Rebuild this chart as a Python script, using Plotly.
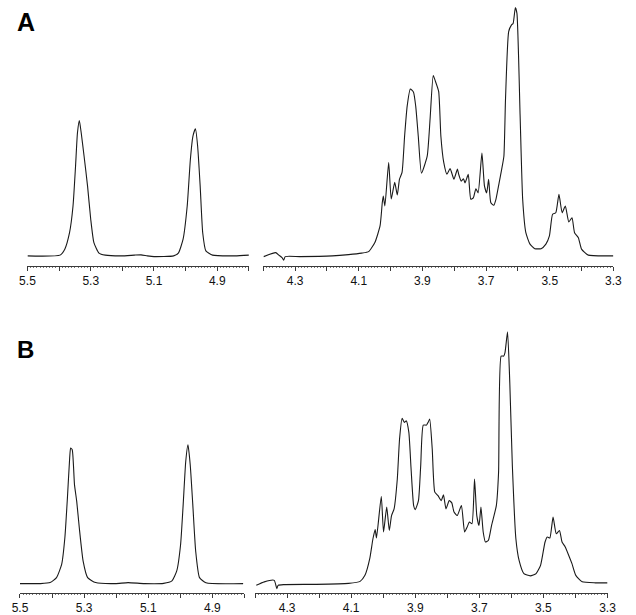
import plotly.graph_objects as go

# ---------------- data (chemical shift in ppm, relative intensity) ----------------
a_left_ppm = [5.500, 5.459, 5.397, 5.382, 5.367, 5.356, 5.348, 5.342, 5.336, 5.330, 5.321, 5.310,
              5.300, 5.290, 5.274, 5.254, 5.203, 5.162, 5.141, 5.121, 5.100, 5.038, 5.023, 5.008,
              4.995, 4.985, 4.977, 4.969, 4.962, 4.954, 4.946, 4.936, 4.915, 4.844, 4.800]
a_left_int = [0.0, -0.1, 0.3, 2.7, 9.3, 20.0, 36.0, 49.3, 54.3, 49.3, 40.0, 28.0,
              14.7, 5.3, 1.1, 0.3, 0.0, 0.3, 0.4, 0.0, -0.3, 0.0, 1.1, 6.7,
              20.0, 38.7, 48.0, 51.0, 44.0, 28.0, 9.3, 2.0, 0.3, 0.0, 0.3]

a_right_ppm = [4.399, 4.361, 4.351, 4.341, 4.336, 4.331, 4.285, 4.183, 4.132, 4.091, 4.069, 4.049,
               4.033, 4.026, 4.023, 4.018, 4.006, 3.998, 3.987, 3.979, 3.972, 3.964, 3.956, 3.948,
               3.938, 3.928, 3.921, 3.913, 3.903, 3.885, 3.876, 3.866, 3.859, 3.849, 3.842, 3.833,
               3.823, 3.813, 3.801, 3.790, 3.786, 3.778, 3.771, 3.766, 3.756, 3.748, 3.740, 3.732,
               3.725, 3.713, 3.705, 3.698, 3.692, 3.685, 3.676, 3.669, 3.659, 3.651, 3.644, 3.639,
               3.629, 3.620, 3.615, 3.608, 3.603, 3.593, 3.585, 3.575, 3.562, 3.547, 3.527, 3.512,
               3.501, 3.491, 3.481, 3.471, 3.461, 3.451, 3.440, 3.430, 3.422, 3.410, 3.400, 3.379,
               3.318, 3.300]
a_right_int = [-0.3, 1.3, 0.3, -0.7, -1.7, -0.3, -0.3, 0.0, 0.5, 1.1, 1.7, 5.5,
               12.1, 21.5, 24.0, 20.0, 37.5, 22.8, 29.5, 24.4, 30.8, 33.5, 48.0, 60.0,
               67.0, 65.7, 60.0, 48.0, 33.2, 40.0, 54.8, 72.4, 70.0, 66.0, 48.0, 37.5,
               32.8, 35.0, 30.8, 34.8, 32.7, 30.0, 30.9, 29.3, 32.7, 22.7, 23.3, 26.9,
               25.3, 41.3, 28.0, 25.3, 30.7, 21.3, 20.3, 22.7, 29.3, 34.7, 40.0, 62.7,
               90.0, 92.7, 93.3, 99.7, 97.3, 56.0, 22.7, 9.3, 4.7, 2.9, 2.9, 4.7,
               8.0, 16.7, 17.3, 24.7, 17.3, 20.0, 13.6, 15.3, 9.3, 7.3, 2.7, 0.3,
               0.0, 0.0]

b_left_ppm = [5.500, 5.436, 5.406, 5.386, 5.370, 5.360, 5.352, 5.345, 5.342, 5.337, 5.330, 5.323,
              5.315, 5.303, 5.289, 5.264, 5.203, 5.163, 5.112, 5.052, 5.026, 5.011, 4.999, 4.991,
              4.983, 4.976, 4.969, 4.961, 4.952, 4.940, 4.920, 4.804]
b_left_int = [0.0, 0.0, 0.4, 2.4, 7.7, 18.4, 34.4, 50.4, 54.4, 53.7, 39.7, 33.0,
              22.4, 9.0, 2.4, 0.4, 0.0, 0.4, 0.0, 0.1, 1.1, 5.1, 15.7, 31.7,
              49.0, 55.7, 47.7, 31.7, 13.1, 2.4, 0.3, 0.0]

b_right_ppm = [4.396, 4.371, 4.340, 4.332, 4.328, 4.310, 4.209, 4.108, 4.072, 4.057, 4.042, 4.032,
               4.025, 4.021, 4.006, 3.999, 3.989, 3.981, 3.974, 3.966, 3.956, 3.949, 3.941, 3.934,
               3.928, 3.920, 3.913, 3.905, 3.900, 3.890, 3.883, 3.875, 3.865, 3.860, 3.855, 3.847,
               3.839, 3.829, 3.819, 3.812, 3.804, 3.794, 3.786, 3.779, 3.769, 3.756, 3.746, 3.738,
               3.731, 3.723, 3.715, 3.708, 3.701, 3.695, 3.688, 3.681, 3.672, 3.662, 3.647, 3.640,
               3.632, 3.624, 3.620, 3.612, 3.605, 3.597, 3.586, 3.576, 3.561, 3.541, 3.523, 3.509,
               3.495, 3.488, 3.480, 3.470, 3.460, 3.450, 3.442, 3.432, 3.421, 3.411, 3.399, 3.379,
               3.338, 3.300]
b_right_int = [-0.7, 0.7, 1.3, -2.0, -0.7, -0.4, -0.3, 0.1, 0.9, 3.3, 10.0, 18.0,
               21.7, 18.3, 35.0, 20.7, 30.7, 21.3, 27.3, 30.0, 42.0, 58.0, 66.3, 64.7,
               65.3, 60.7, 46.0, 31.3, 29.7, 33.3, 47.3, 63.6, 63.6, 64.7, 66.0, 54.0,
               36.7, 35.3, 33.3, 35.6, 30.0, 33.3, 32.4, 28.7, 27.3, 31.3, 20.7, 22.7,
               24.7, 24.0, 42.0, 27.3, 23.3, 30.7, 20.7, 16.7, 17.3, 23.3, 31.3, 44.7,
               91.3, 91.3, 92.7, 101.0, 80.7, 47.3, 18.0, 9.3, 4.0, 3.1, 4.0, 7.3,
               16.7, 18.7, 18.3, 26.7, 20.0, 21.3, 16.7, 14.7, 11.3, 8.0, 3.3, 0.7,
               0.3, 0.3]

left_tickvals = [5.5, 5.4, 5.3, 5.2, 5.1, 5.0, 4.9, 4.8]
left_ticktext = ["5.5", "", "5.3", "", "5.1", "", "4.9", ""]
right_tickvals = [4.4, 4.3, 4.2, 4.1, 4.0, 3.9, 3.8, 3.7, 3.6, 3.5, 3.4, 3.3]
right_ticktext = ["", "4.3", "", "4.1", "", "3.9", "", "3.7", "", "3.5", "", "3.3"]
panel_labels = ["A", "B"]

# ---------------- figure ----------------
W, H = 636, 615
LINE = dict(color="#1a1a1a", width=1.1, shape="spline", smoothing=0.5)

fig = go.Figure()
fig.add_trace(go.Scatter(x=a_left_ppm, y=a_left_int, mode="lines", line=LINE, xaxis="x", yaxis="y"))
fig.add_trace(go.Scatter(x=a_right_ppm, y=a_right_int, mode="lines", line=LINE, xaxis="x2", yaxis="y"))
fig.add_trace(go.Scatter(x=b_left_ppm, y=b_left_int, mode="lines", line=LINE, xaxis="x3", yaxis="y2"))
fig.add_trace(go.Scatter(x=b_right_ppm, y=b_right_int, mode="lines", line=LINE, xaxis="x4", yaxis="y2"))


def px_x(a, b):
    return [a / W, b / W]


def px_y(top, bottom):
    return [1 - bottom / H, 1 - top / H]


def xax(domain, rng, vals, text, anchor):
    return dict(
        domain=domain, range=rng, anchor=anchor,
        showgrid=False, zeroline=False,
        showline=True, linecolor="#3a3a3a", linewidth=1,
        ticks="outside", ticklen=4, tickwidth=1, tickcolor="#3a3a3a",
        tickmode="array", tickvals=vals, ticktext=text,
        tickfont=dict(family="Liberation Sans, Arial, sans-serif", size=12, color="#111"),
        minor=dict(ticks="outside", ticklen=1.5, tickwidth=1, tickcolor="#777",
                   tick0=3.0, dtick=0.01, showgrid=False),
        fixedrange=True,
    )


fig.update_layout(
    width=W, height=H,
    margin=dict(l=0, r=0, t=0, b=0),
    paper_bgcolor="white", plot_bgcolor="white",
    showlegend=False,
    xaxis=xax(px_x(20, 247.5), [5.5, 4.8], left_tickvals, left_ticktext, "y"),
    xaxis2=xax(px_x(262.3, 622), [4.4, 3.3], right_tickvals, right_ticktext, "y"),
    xaxis3=xax(px_x(12.3, 242.9), [5.5, 4.8], left_tickvals, left_ticktext, "y2"),
    xaxis4=xax(px_x(253.8, 616), [4.4, 3.3], right_tickvals, right_ticktext, "y2"),
    yaxis=dict(domain=px_y(5, 266.7), range=[-4.0, 100.7], visible=False, fixedrange=True),
    yaxis2=dict(domain=px_y(320, 594.5), range=[-3.6, 106.2], visible=False, fixedrange=True),
    annotations=[
        dict(text="<b>%s</b>" % panel_labels[0], x=7 / W, y=1 - 6 / H, xref="paper", yref="paper",
             xanchor="left", yanchor="top", showarrow=False,
             font=dict(family="Liberation Sans, Arial, sans-serif", size=25, color="black")),
        dict(text="<b>%s</b>" % panel_labels[1], x=7 / W, y=1 - 335 / H, xref="paper", yref="paper",
             xanchor="left", yanchor="top", showarrow=False,
             font=dict(family="Liberation Sans, Arial, sans-serif", size=24, color="black")),
    ],
)

fig.write_html(
    "out.html",
    config={"displayModeBar": False},
    post_script="document.body.style.margin='0';document.body.style.overflow='hidden';",
)
